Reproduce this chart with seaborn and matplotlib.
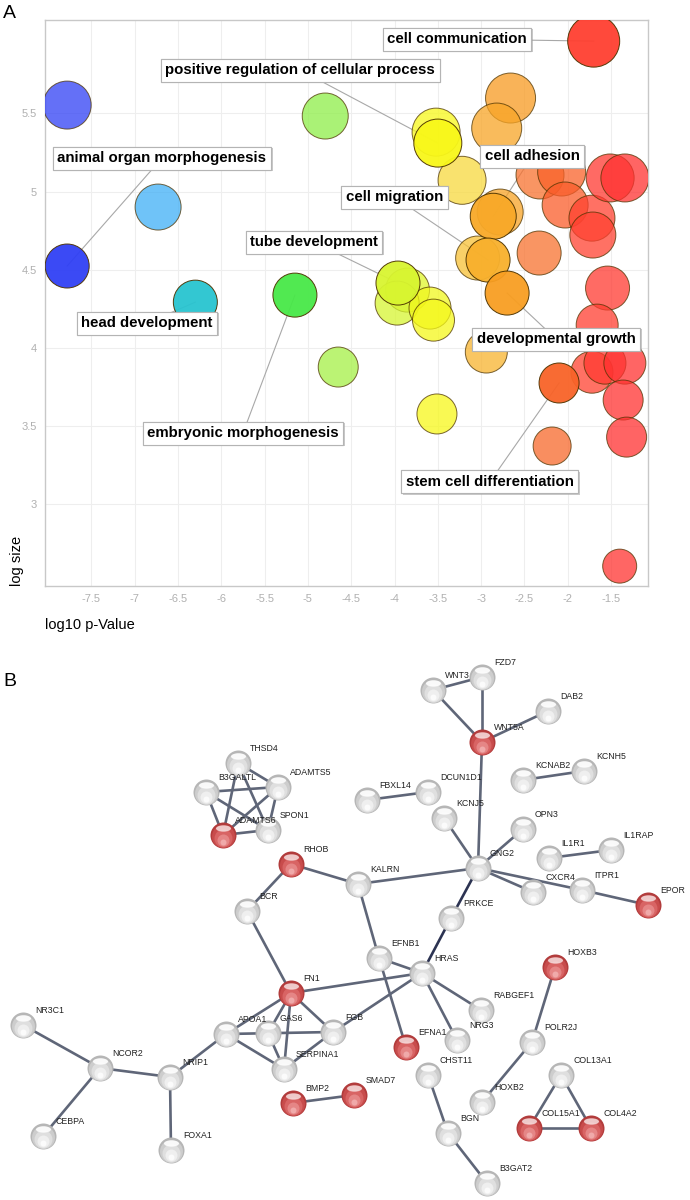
import matplotlib
matplotlib.use("Agg")
import matplotlib.pyplot as plt
import matplotlib.patheffects as pe
from matplotlib.colors import LinearSegmentedColormap
from matplotlib.path import Path
import numpy as np
import pandas as pd
import seaborn as sns

# ---- panel A: enriched GO terms ----
log10_p = [-7.78, -7.78, -6.73, -6.30, -5.15, -4.80, -4.65, -3.51, -3.52, -3.50,
           -3.22, -2.66, -2.82, -1.70, -2.78, -2.86, -3.04, -2.92, -2.70, -2.94,
           -2.33, -2.32, -2.07, -2.03, -1.72, -1.71, -1.51, -1.34, -1.54, -1.66,
           -1.72, -1.57, -1.34, -1.36, -1.32, -2.10, -2.18, -1.40, -3.96, -3.85,
           -3.97, -3.59, -3.55]
log_size = [5.553, 4.524, 4.901, 4.293, 4.338, 5.483, 3.878, 3.578, 5.380, 5.310,
            5.072, 5.598, 5.406, 5.962, 4.869, 4.842, 4.575, 4.562, 4.351, 3.974,
            4.607, 5.106, 5.125, 4.914, 4.830, 4.722, 5.087, 5.087, 4.383, 4.146,
            3.845, 3.903, 3.903, 3.667, 3.430, 3.776, 3.373, 2.605, 4.415, 4.370,
            4.287, 4.255, 4.178]
# bubble radius (px)
bubble_r = [24, 22, 23, 22, 22, 23, 20, 20, 24, 24,
            24, 25, 25, 26, 23, 23, 22, 22, 22, 21,
            22, 24, 24, 23, 23, 23, 24, 24, 22, 21,
            21, 21, 21, 20, 20, 20, 19, 17, 22, 22,
            22, 21, 21]
term = [""] * len(log10_p)
term[1] = "animal organ morphogenesis"
term[3] = "head development"
term[4] = "embryonic morphogenesis"
term[9] = "positive regulation of cellular process"
term[13] = "cell communication"
term[15] = "cell adhesion"
term[17] = "cell migration"
term[18] = "developmental growth"
term[35] = "stem cell differentiation"
term[38] = "tube development"

# where each label box sits (data coords)
label_at = {
    "cell communication": (-3.28, 5.975),
    "positive regulation of cellular process": (-5.09, 5.777),
    "animal organ morphogenesis": (-6.685, 5.214),
    "cell adhesion": (-2.41, 5.227),
    "cell migration": (-4.0, 4.965),
    "tube development": (-4.93, 4.676),
    "head development": (-6.86, 4.159),
    "developmental growth": (-2.135, 4.057),
    "embryonic morphogenesis": (-5.75, 3.456),
    "stem cell differentiation": (-2.90, 3.143),
}

cmap_stops = [(-7.8, "#3040F5"), (-6.75, "#40AEF8"), (-6.3, "#28C4D0"),
              (-5.15, "#48E848"), (-4.7, "#A0F048"), (-3.95, "#D8F530"),
              (-3.5, "#F8F818"), (-3.2, "#F8D840"), (-2.85, "#F8A828"),
              (-2.65, "#F89A20"), (-2.3, "#F87030"), (-2.1, "#F86428"),
              (-1.7, "#FF4030"), (-1.3, "#FF3030")]

# ---- panel B: interaction network ----
gene = ["WNT3", "FZD7", "DAB2", "WNT5A", "KCNAB2", "KCNH5", "FBXL14", "DCUN1D1",
        "KCNJ5", "OPN3", "IL1R1", "IL1RAP", "GNG2", "KALRN", "CXCR4", "ITPR1",
        "EPOR", "PRKCE", "THSD4", "B3GALTL", "ADAMTS5", "SPON1", "ADAMTS6", "RHOB",
        "BCR", "EFNB1", "HRAS", "HOXB3", "RABGEF1", "NRG3", "EFNA1", "POLR2J",
        "CHST11", "COL13A1", "SMAD7", "HOXB2", "BGN", "COL15A1", "COL4A2", "B3GAT2",
        "FN1", "FGB", "NR3C1", "APOA1", "GAS6", "NCOR2", "NRIP1", "SERPINA1",
        "BMP2", "CEBPA", "FOXA1"]
gene_x = [433, 482, 548, 482, 523, 584, 367, 428, 444, 523, 549, 611, 478, 358,
          533, 582, 648, 451, 238, 206, 278, 268, 223, 291, 247, 379, 422, 555,
          481, 457, 406, 532, 428, 561, 354, 482, 448, 529, 591, 487, 291, 333,
          23, 226, 268, 100, 170, 284, 293, 43, 171]
gene_y = [690, 677, 711, 742, 780, 771, 800, 792, 818, 829, 858, 850, 868, 884,
          892, 890, 905, 918, 763, 792, 787, 830, 835, 864, 911, 958, 973, 967,
          1010, 1040, 1047, 1042, 1075, 1075, 1095, 1102, 1133, 1128, 1128, 1183,
          993, 1032, 1025, 1034, 1033, 1068, 1077, 1069, 1103, 1136, 1150]
highlighted = ["WNT5A", "EPOR", "ADAMTS6", "RHOB", "HOXB3", "EFNA1", "SMAD7",
               "COL15A1", "COL4A2", "FN1", "BMP2"]
links = [("WNT3", "FZD7"), ("WNT3", "WNT5A"), ("FZD7", "WNT5A"), ("WNT5A", "DAB2"),
         ("WNT5A", "GNG2"), ("KCNAB2", "KCNH5"), ("FBXL14", "DCUN1D1"),
         ("KCNJ5", "GNG2"), ("OPN3", "GNG2"), ("IL1R1", "IL1RAP"), ("GNG2", "KALRN"),
         ("GNG2", "CXCR4"), ("GNG2", "ITPR1"), ("ITPR1", "EPOR"),
         ("THSD4", "ADAMTS5"), ("THSD4", "ADAMTS6"), ("THSD4", "SPON1"),
         ("B3GALTL", "ADAMTS5"), ("B3GALTL", "ADAMTS6"), ("B3GALTL", "SPON1"),
         ("ADAMTS5", "ADAMTS6"), ("ADAMTS5", "SPON1"), ("ADAMTS6", "SPON1"),
         ("RHOB", "KALRN"), ("RHOB", "BCR"), ("BCR", "FN1"), ("KALRN", "EFNB1"),
         ("EFNB1", "HRAS"), ("EFNB1", "EFNA1"), ("FN1", "HRAS"), ("HRAS", "FGB"),
         ("HRAS", "RABGEF1"), ("HRAS", "NRG3"), ("FN1", "APOA1"), ("FN1", "GAS6"),
         ("FN1", "SERPINA1"), ("FN1", "FGB"), ("APOA1", "FGB"), ("APOA1", "SERPINA1"),
         ("GAS6", "SERPINA1"), ("FGB", "SERPINA1"), ("NRIP1", "APOA1"),
         ("NCOR2", "NRIP1"), ("NCOR2", "NR3C1"), ("NCOR2", "CEBPA"),
         ("NRIP1", "FOXA1"), ("BMP2", "SMAD7"), ("HOXB3", "POLR2J"),
         ("POLR2J", "HOXB2"), ("CHST11", "BGN"), ("BGN", "B3GAT2"),
         ("COL13A1", "COL15A1"), ("COL13A1", "COL4A2"), ("COL15A1", "COL4A2")]
strong_links = [("GNG2", "PRKCE"), ("PRKCE", "HRAS")]

DPI = 100
plt.rcParams["axes.unicode_minus"] = False
plt.rcParams["font.family"] = ["Liberation Sans", "DejaVu Sans"]

fig = plt.figure(figsize=(6.9, 12), dpi=DPI)

# ---------------- panel A ----------------
ax = fig.add_axes([45 / 690, 1 - 586 / 1200, 603 / 690, 566 / 1200])
vmin, vmax = cmap_stops[0][0], cmap_stops[-1][0]
cmap = LinearSegmentedColormap.from_list(
    "go", [((v - vmin) / (vmax - vmin), c) for v, c in cmap_stops])

df = pd.DataFrame({"p": log10_p, "size": log_size, "r": bubble_r, "term": term})
df["area"] = (2 * df["r"] * 72 / DPI) ** 2

for name, (lx, ly) in label_at.items():
    row = df[df.term == name].iloc[0]
    ax.plot([lx, row.p], [ly, row["size"]], color="#A8A8A8", lw=0.8, zorder=2)

plain = df[df.term == ""]
named = df[df.term != ""]
for sub, a in ((plain, 0.75), (named, 0.95)):
    sns.scatterplot(data=sub, x="p", y="size", hue="p", hue_norm=(vmin, vmax),
                    palette=cmap, s=sub["area"].to_numpy(), alpha=a,
                    edgecolor=(0.3, 0.2, 0.0, 0.35), linewidth=0.7,
                    legend=False, ax=ax, zorder=3)

for name, (lx, ly) in label_at.items():
    t = ax.text(lx, ly, name, ha="center", va="center", fontsize=10.8,
                fontweight="bold", color="black", zorder=6,
                bbox=dict(boxstyle="square,pad=0.3", fc="white", ec="#B4B4B4", lw=0.8))
    t.get_bbox_patch().set_path_effects(
        [pe.withSimplePatchShadow(offset=(1.2, -1.2), shadow_rgbFace="#999999", alpha=0.5),
         pe.Normal()])

ax.set_xlim(-8.036, -1.073)
ax.set_ylim(2.478, 6.097)
ax.set_xticks(np.arange(-7.5, -1.4, 0.5))
ax.set_yticks(np.arange(3.0, 5.6, 0.5))
ax.set_xticklabels([f"{v:g}" for v in np.arange(-7.5, -1.4, 0.5)])
ax.set_yticklabels([f"{v:g}" for v in np.arange(3.0, 5.6, 0.5)])
ax.tick_params(length=0, labelsize=8, labelcolor="#B0B0B0", pad=6)
ax.grid(True, color="#EEEEEE", lw=0.8, zorder=0)
ax.set_axisbelow(True)
for sp in ax.spines.values():
    sp.set_color("#C8C8C8")
    sp.set_linewidth(1.0)
ax.set_xlabel("log10 p-Value", fontsize=10.5, loc="left")
ax.set_ylabel("log size", fontsize=10.5, loc="bottom")
ax.xaxis.set_label_coords(0.0, -32 / 566)
ax.yaxis.set_label_coords(-21 / 603, 0.0)

fig.text(3 / 690, 1 - 13 / 1200, "A", fontsize=14, va="center", ha="left")
fig.text(3 / 690, 1 - 681 / 1200, "B", fontsize=14, va="center", ha="left")

# ---------------- panel B ----------------
bx = fig.add_axes([0, 0, 1, 560 / 1200])
bx.set_xlim(0, 690)
bx.set_ylim(1200, 640)
bx.axis("off")

nodes = pd.DataFrame({"gene": gene, "x": gene_x, "y": gene_y})
nodes["hit"] = nodes.gene.isin(highlighted)
pos = nodes.set_index("gene")[["x", "y"]]

for a, b in links:
    bx.plot([pos.x[a], pos.x[b]], [pos.y[a], pos.y[b]], color="#5F6678",
            lw=1.9, solid_capstyle="round", zorder=1)
for a, b in strong_links:
    bx.plot([pos.x[a], pos.x[b]], [pos.y[a], pos.y[b]], color="#2C3352",
            lw=1.9, solid_capstyle="round", zorder=1)


def px_area(d):
    return (d * 72 / DPI) ** 2


ellipse = Path.unit_circle().transformed(
    matplotlib.transforms.Affine2D().scale(1.0, 0.42))

shades = [  # diameter px, y shift px, grey colour, red colour
    (26, 0.0, "#B6B6B6", "#B23C3C"),
    (23, 1.0, "#CDCDCD", "#C84C4C"),
    (18, 2.5, "#DFDFDF", "#D86464"),
    (12, 4.5, "#EFEFEF", "#E58686"),
    (6, 6.5, "#FBFBFB", "#F0AAAA"),
]
for d, dy, grey, red in shades:
    for hit, col in ((False, grey), (True, red)):
        sub = nodes[nodes.hit == hit]
        sns.scatterplot(x=sub.x.to_numpy(), y=sub.y.to_numpy() + dy, s=px_area(d),
                        color=col, linewidth=0, ax=bx, zorder=2, legend=False)
for hit, a in ((False, 0.9), (True, 0.7)):
    sub = nodes[nodes.hit == hit]
    bx.scatter(sub.x, sub.y - 7.5, s=px_area(15), marker=ellipse, color="white",
               alpha=a, linewidth=0, zorder=3)

for g, x, y in zip(gene, gene_x, gene_y):
    bx.text(x + 12, y - 14.5, g, fontsize=6.3, ha="left", va="center",
            color="#222222", zorder=4)

fig.savefig("out.png", dpi=DPI, facecolor="white")
